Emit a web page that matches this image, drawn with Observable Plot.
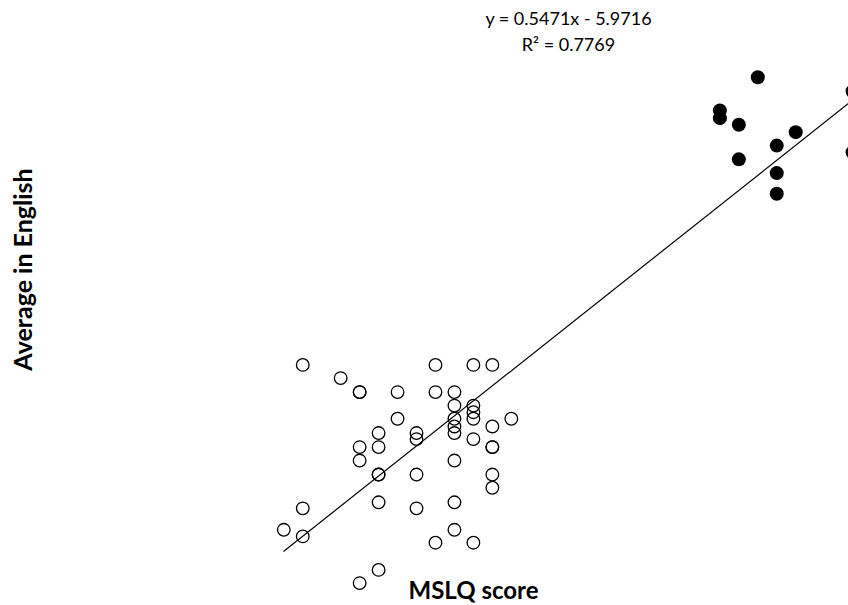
<!DOCTYPE html>
<html>
<head>
<meta charset="utf-8">
<script src="https://cdn.jsdelivr.net/npm/d3@7"></script>
<script src="https://cdn.jsdelivr.net/npm/@observablehq/plot@0.6"></script>
<style>
  html, body { margin: 0; padding: 0; background: #fff; }
  #chart svg { display: block; }
</style>
</head>
<body>
<div id="chart"></div>
<script>
// MSLQ score (x) and Average in English (y)
const openX = [31,33,34,34,36,38,40,41,38,39,39,40,40,40,39,39,39,36,37,37,35,35,34,34,41,42,40,41,41,39,35,35,37,41,41,35,37,39,31,30,31,39,38,40,35,34];
const openY = [17.22,16.74,16.23,16.23,16.23,17.22,17.22,17.22,16.23,16.23,15.74,15.74,15.50,15.26,15.26,14.98,14.74,15.26,14.74,14.52,14.74,14.23,14.23,13.74,14.98,15.26,14.52,14.23,14.23,13.74,13.23,13.23,13.23,13.23,12.75,12.22,12.00,12.22,12.00,11.22,10.98,11.22,10.75,10.75,9.76,9.28];
const filledX = [55,53,53,54,57,56,54,56,56,60,60];
const filledY = [27.69,26.48,26.20,25.96,25.69,25.20,24.70,24.20,23.45,27.18,24.96];

// trend line y = 0.5471x - 5.9716
const slope = 0.5471, intercept = -5.9716;
const trendX = [30, 60];
const equationLines = ["y = 0.5471x - 5.9716", "R² = 0.7769"];
const xLabel = "MSLQ score";
const yLabel = "Average in English";

const openData = openX.map((x, i) => ({x, y: openY[i]}));
const filledData = filledX.map((x, i) => ({x, y: filledY[i]}));
const trendData = trendX.map(x => ({x, y: slope * x + intercept}));

const font = "Lato, 'Open Sans', sans-serif";

const chart = Plot.plot({
  width: 848,
  height: 605,
  margin: 0,
  style: {fontFamily: font, background: "#fff", overflow: "visible"},
  x: {domain: [15.058, 59.784], axis: null},
  y: {domain: [8.465, 30.481], axis: null},
  marks: [
    Plot.line(trendData, {x: "x", y: "y", stroke: "#000", strokeWidth: 1.2, clip: true}),
    Plot.dot(openData, {x: "x", y: "y", r: 6.3, stroke: "#000", strokeWidth: 1.3, fill: "#fff", fillOpacity: 0}),
    Plot.dot(filledData, {x: "x", y: "y", r: 7, fill: "#000", stroke: "none", clip: true}),
    Plot.text([equationLines.join("\n")], {frameAnchor: "top", dx: 144, dy: 7, fontSize: 18, lineHeight: 1.4, fill: "#000", textAnchor: "middle"}),
    Plot.text([xLabel], {frameAnchor: "bottom", dx: 49, dy: -7, fontSize: 24, fontWeight: "bold", fill: "#000", textAnchor: "middle"}),
    Plot.text([yLabel], {frameAnchor: "left", dx: 23, dy: -33.5, rotate: -90, fontSize: 25, fontWeight: "bold", fill: "#000", textAnchor: "middle"})
  ]
});
document.getElementById("chart").appendChild(chart);
</script>
</body>
</html>
